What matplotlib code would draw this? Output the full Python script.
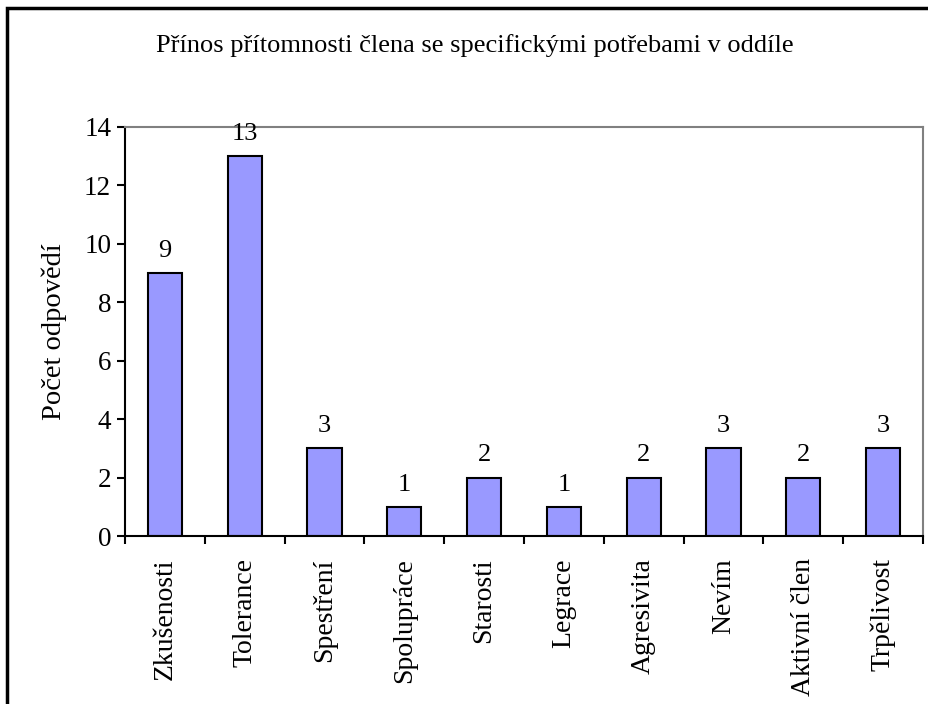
import matplotlib
matplotlib.use("Agg")
import matplotlib.pyplot as plt
from matplotlib.patches import Rectangle
import numpy as np

categories = ["Zkušenosti", "Tolerance", "Spestření", "Spolupráce", "Starosti",
              "Legrace", "Agresivita", "Nevím", "Aktivní člen", "Trpělivost"]
counts = [9, 13, 3, 1, 2, 1, 2, 3, 2, 3]
y_ticks = [0, 2, 4, 6, 8, 10, 12, 14]

plt.rcParams['font.family'] = ['Liberation Serif', 'DejaVu Serif']

W, H = 929, 704
fig = plt.figure(figsize=(W / 100, H / 100), dpi=100)

# axes box in pixel coordinates
left, right, top, bottom = 125, 923, 127, 536
ax = fig.add_axes([left / W, 1 - bottom / H, (right - left) / W, (bottom - top) / H])

x = np.arange(len(categories))
ax.bar(x, counts, width=0.43, color="#9999ff", edgecolor="black", linewidth=1.5)

for xi, v in zip(x, counts):
    ax.annotate(str(v), (xi, v), xytext=(0, 8), textcoords="offset points",
                ha="center", va="bottom", fontsize=19)

ax.set_xlim(-0.5, len(categories) - 0.5)
ax.set_ylim(0, 14)
ax.set_yticks(y_ticks)
ax.tick_params(axis="y", labelsize=19.5, length=6, width=1.5, direction="out", pad=4)

# category labels centred, ticks on category boundaries
ax.set_xticks(x)
ax.set_xticklabels(categories, rotation=90, fontsize=20)
ax.tick_params(axis="x", which="major", length=0, pad=16)
ax.set_xticks(np.arange(-0.5, len(categories)), minor=True)
ax.tick_params(axis="x", which="minor", length=6, width=1.5, direction="out")

ax.set_ylabel("Počet odpovědí", fontsize=20.5, labelpad=12)

for side in ["top", "right"]:
    ax.spines[side].set_color("#808080")
    ax.spines[side].set_linewidth(1.5)
for side in ["left", "bottom"]:
    ax.spines[side].set_color("black")
    ax.spines[side].set_linewidth(1.5)

fig.text(475 / W, 1 - 46 / H, "Přínos přítomnosti člena se specifickými potřebami v oddíle",
         ha="center", va="center", fontsize=19)

# outer chart border (runs off the right and bottom edge)
fig.patches.append(Rectangle((7 / W, -0.05), 1.1, 1 - 8 / H + 0.05,
                             transform=fig.transFigure, fill=False,
                             edgecolor="black", linewidth=2.5, clip_on=False))

fig.savefig("out.png", dpi=100)
plt.close(fig)
